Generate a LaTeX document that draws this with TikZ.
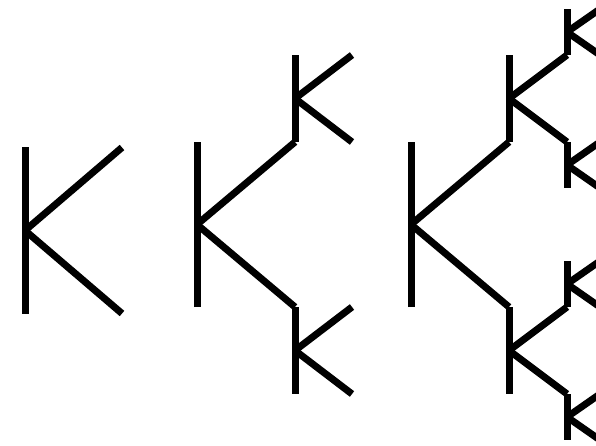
\documentclass[tikz,border=0pt]{standalone}

\begin{document}
\begin{tikzpicture}[x=1pt,y=1pt,line width=7pt]

\useasboundingbox (0,0) rectangle (596,445);
\clip (0,0) rectangle (596,445);

\draw (25,131.5) -- (25,297.5);
\draw (25,214.5) -- (122,297.5);
\draw (25,214.5) -- (122,131.5);

\draw (197,138) -- (197,303);
\draw (197,220.5) -- (295,303);
\draw (197,220.5) -- (295,138);

\draw (295,303) -- (295,390);
\draw (295,346.5) -- (352,390);
\draw (295,346.5) -- (352,303);

\draw (295,138) -- (295,51);
\draw (295,94.5) -- (352,138);
\draw (295,94.5) -- (352,51);

\draw (411,138) -- (411,303);
\draw (411,220.5) -- (509,303);
\draw (411,220.5) -- (509,138);

\draw (509,303) -- (509,390);
\draw (509,346.5) -- (567,390);
\draw (509,346.5) -- (567,303);

\draw (509,138) -- (509,51);
\draw (509,94.5) -- (567,138);
\draw (509,94.5) -- (567,51);

\draw (567,390) -- (567,436);
\draw (567,413) -- (600,436);
\draw (567,413) -- (600,390);

\draw (567,303) -- (567,257);
\draw (567,280) -- (600,303);
\draw (567,280) -- (600,257);

\draw (567,138) -- (567,184);
\draw (567,161) -- (600,184);
\draw (567,161) -- (600,138);

\draw (567,51) -- (567,5);
\draw (567,28) -- (600,51);
\draw (567,28) -- (600,5);

\end{tikzpicture}
\end{document}
